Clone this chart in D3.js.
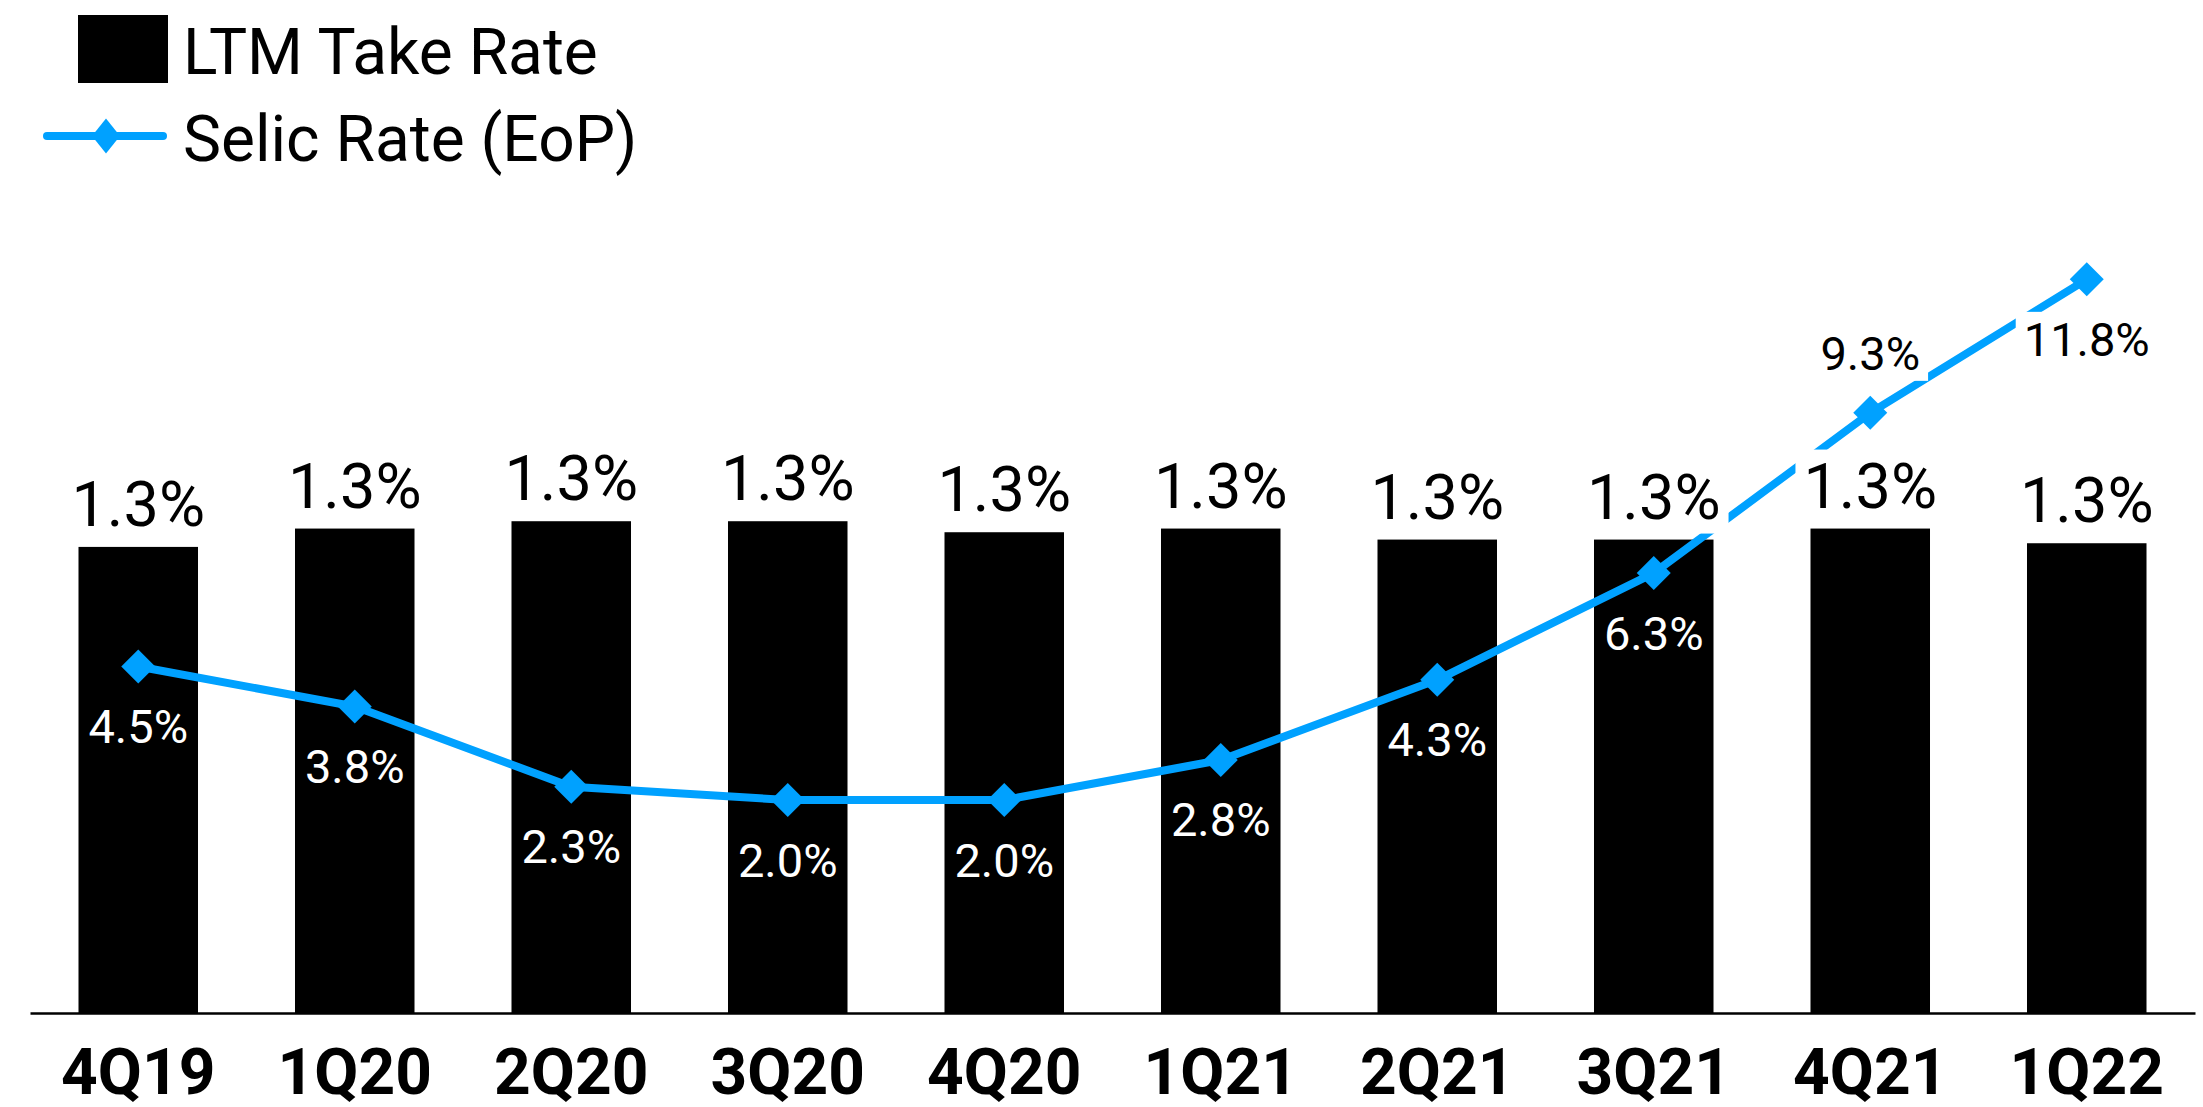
<!DOCTYPE html>
<html>
<head>
<meta charset="utf-8">
<script src="https://cdn.jsdelivr.net/npm/d3@7"></script>
<style>
  html, body { margin: 0; padding: 0; background: #fff; }
  svg { display: block; font-family: Roboto, "Noto Sans", sans-serif; }
</style>
</head>
<body>
<svg id="chart" width="2203" height="1107"></svg>
<script>
// Quarterly series
const quarters = ["4Q19", "1Q20", "2Q20", "3Q20", "4Q20", "1Q21", "2Q21", "3Q21", "4Q21", "1Q22"];
const takeRate = [1.27, 1.32, 1.34, 1.34, 1.31, 1.32, 1.29, 1.29, 1.32, 1.28];   // LTM take rate, %
const selicRate = [4.5, 3.75, 2.25, 2.0, 2.0, 2.75, 4.25, 6.25, 9.25, 11.75];   // Selic rate end of period, %
const selicLabelAbove = ["4Q21"];   // quarters whose Selic label sits above the marker

const legendItems = ["LTM Take Rate", "Selic Rate (EoP)"];

const BLUE = "#00A1FF";
const fmt = d3.format(".1f");

const svg = d3.select("#chart");
const W = 2203, H = 1107;
const baseY = 1013;

svg.append("rect").attr("width", W).attr("height", H).attr("fill", "#fff");

// Scales
const x = d3.scaleBand().domain(quarters).range([30, 2195]).paddingInner(0.448).paddingOuter(0.224);
const yBar = d3.scaleLinear().domain([0, 2.5]).range([baseY, baseY - 2.5 * 367]);
const yLine = d3.scaleLinear().domain([0, 14]).range([906.8, 906.8 - 14 * 53.4]);

const barData = quarters.map((q, i) => ({ q, v: takeRate[i] }));
const lineData = quarters.map((q, i) => ({ q, v: selicRate[i] }));
const cx = q => x(q) + x.bandwidth() / 2;

// Bars
svg.append("g").selectAll("rect").data(barData).join("rect")
  .attr("x", d => x(d.q))
  .attr("y", d => yBar(d.v))
  .attr("width", x.bandwidth())
  .attr("height", d => yBar(0) - yBar(d.v))
  .attr("fill", "#000");

// X axis
const axis = svg.append("g")
  .attr("transform", `translate(0,${baseY})`)
  .call(d3.axisBottom(x).tickSize(0).tickPadding(0));
axis.select(".domain").attr("stroke", "#000").attr("stroke-width", 2.5);
axis.selectAll(".tick text")
  .attr("y", 81).attr("dy", 0)
  .attr("font-family", "Roboto, sans-serif")
  .attr("font-size", 64)
  .attr("font-weight", "bold")
  .attr("fill", "#000");

// Selic line
const line = d3.line().x(d => cx(d.q)).y(d => yLine(d.v));
svg.append("path").datum(lineData)
  .attr("d", line)
  .attr("fill", "none")
  .attr("stroke", BLUE)
  .attr("stroke-width", 8)
  .attr("stroke-linejoin", "round");

// Diamond markers
const diamond = (w, h) => `M0,${-h / 2}L${w / 2},0L0,${h / 2}L${-w / 2},0Z`;
svg.append("g").selectAll("path").data(lineData).join("path")
  .attr("transform", d => `translate(${cx(d.q)},${yLine(d.v)})`)
  .attr("d", diamond(34, 34))
  .attr("fill", BLUE);

// Text with a white backing box that hides the line underneath
function boxedLabel(g, tx, ty, text, size, color, withBox) {
  const grp = g.append("g");
  const rect = grp.append("rect").attr("fill", "#fff");
  const t = grp.append("text")
    .attr("x", tx).attr("y", ty)
    .attr("text-anchor", "middle")
    .attr("font-size", size)
    .attr("fill", color)
    .text(text);
  if (withBox) {
    const b = t.node().getBBox();
    rect.attr("x", b.x - 8).attr("y", b.y).attr("width", b.width + 16).attr("height", b.height);
  } else {
    rect.remove();
  }
}

// Take-rate labels above bars
const barLabels = svg.append("g");
barData.forEach(d => {
  boxedLabel(barLabels, cx(d.q), yBar(d.v) - 21, fmt(d.v) + "%", 63, "#000", true);
});

// Selic labels
const lineLabels = svg.append("g");
lineData.forEach((d, i) => {
  const above = selicLabelAbove.includes(d.q);
  const ty = above ? yLine(d.v) - 43 : yLine(d.v) + 76.5;
  const insideBar = ty > yBar(takeRate[i]);
  boxedLabel(lineLabels, cx(d.q), ty, fmt(d.v) + "%", 47, insideBar ? "#fff" : "#000", !insideBar);
});

// Legend
const legend = svg.append("g");
legend.append("rect").attr("x", 78).attr("y", 15).attr("width", 90).attr("height", 68).attr("fill", "#000");
legend.append("text").attr("x", 183).attr("y", 74).attr("font-size", 64).attr("fill", "#000").text(legendItems[0]);
legend.append("line").attr("x1", 47).attr("x2", 163).attr("y1", 136).attr("y2", 136)
  .attr("stroke", BLUE).attr("stroke-width", 8).attr("stroke-linecap", "round");
legend.append("path").attr("transform", "translate(106,136)").attr("d", diamond(28, 35)).attr("fill", BLUE);
legend.append("text").attr("x", 183).attr("y", 161).attr("font-size", 64).attr("fill", "#000").text(legendItems[1]);
</script>
</body>
</html>
